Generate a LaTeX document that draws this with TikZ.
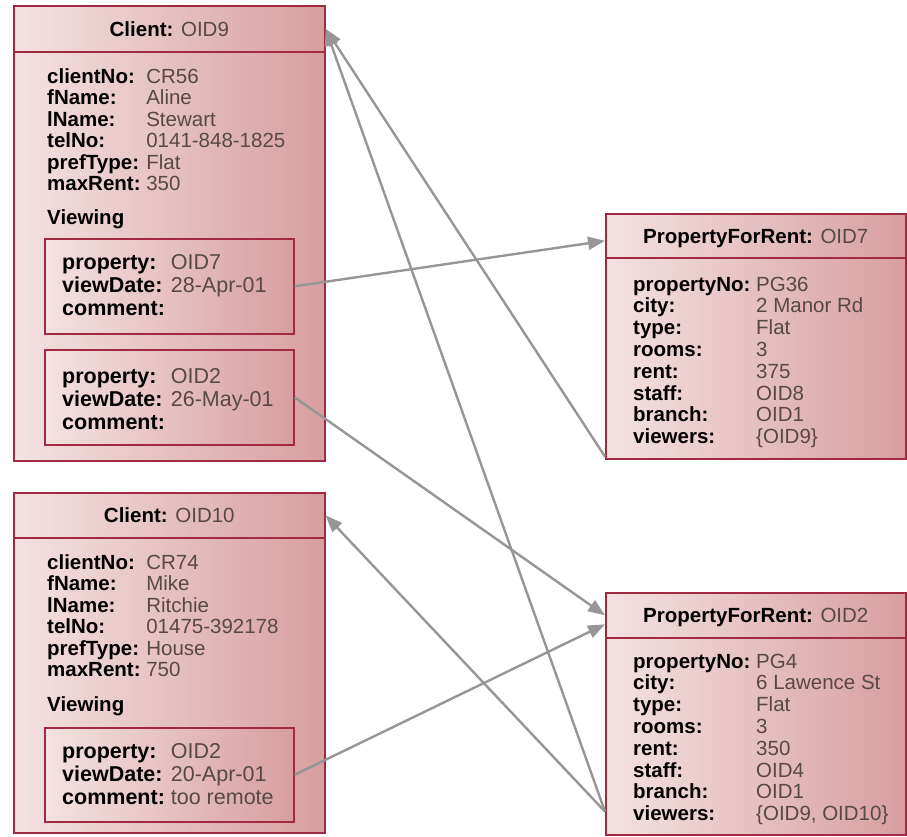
\documentclass[tikz,border=0pt]{standalone}
\usepackage{fontspec}
\setmainfont{Liberation Sans}
\usetikzlibrary{arrows.meta}

\definecolor{boxL}{RGB}{244,226,226}
\definecolor{boxR}{RGB}{216,158,160}
\definecolor{boxedge}{RGB}{160,42,66}
\definecolor{valgray}{RGB}{88,72,72}
\definecolor{linkgray}{RGB}{150,150,150}

\newcommand{\lbl}[1]{\textbf{#1}}
\newcommand{\val}[1]{\textcolor{valgray}{#1}}

\tikzset{
  objbox/.style={rectangle, draw=boxedge, line width=1.6pt,
    left color=boxL, right color=boxR, inner sep=0pt, anchor=north west},
  hdrbox/.style={objbox, minimum height=46pt,
    font=\fontsize{20.5}{22}\selectfont, text height=15pt, text depth=0pt},
  attrs/.style={inner sep=0pt, anchor=base west,
    font=\fontsize{20.5}{21.5}\selectfont},
  propattrs/.style={attrs, font=\fontsize{20.5}{21.8}\selectfont},
  viewattrs/.style={inner sep=0pt, anchor=base west,
    font=\fontsize{21.5}{23.3}\selectfont},
  link/.style={draw=linkgray, line width=2.4pt,
    -{Triangle[length=17pt,width=13pt]}}
}

\begin{document}
\begin{tikzpicture}[x=1pt,y=-1pt]
\useasboundingbox (0,0) rectangle (907,836);

% ---------- Client OID9 ----------
\node[objbox, minimum width=311pt, minimum height=455pt] (c9) at (13,5) {};
\node[hdrbox, minimum width=311pt] (c9h) at (13,5) {\lbl{Client:} \val{OID9}};
\node[attrs] (c9a) at (47,83) {\begin{tabular}[t]{@{}l@{\ }l@{}}
  \lbl{clientNo:} & \val{CR56}\\
  \lbl{fName:}    & \val{Aline}\\
  \lbl{lName:}    & \val{Stewart}\\
  \lbl{telNo:}    & \val{0141-848-1825}\\
  \lbl{prefType:} & \val{Flat}\\
  \lbl{maxRent:}  & \val{350}
\end{tabular}};
\node[attrs] (c9v) at (47,224) {\lbl{Viewing}};

\node[objbox, minimum width=249pt, minimum height=95pt] (v1) at (44,238) {};
\node[viewattrs] (v1a) at (62,269) {\begin{tabular}[t]{@{}l@{\ }l@{}}
  \lbl{property:} & \val{OID7}\\
  \lbl{viewDate:} & \val{28-Apr-01}\\
  \lbl{comment:}  &
\end{tabular}};

\node[objbox, minimum width=249pt, minimum height=95pt] (v2) at (44,349) {};
\node[viewattrs] (v2a) at (62,383) {\begin{tabular}[t]{@{}l@{\ }l@{}}
  \lbl{property:} & \val{OID2}\\
  \lbl{viewDate:} & \val{26-May-01}\\
  \lbl{comment:}  &
\end{tabular}};

% ---------- Client OID10 ----------
\node[objbox, minimum width=311pt, minimum height=340pt] (c10) at (13,492) {};
\node[hdrbox, minimum width=311pt, minimum height=45pt] (c10h) at (13,492) {\lbl{Client:} \val{OID10}};
\node[attrs] (c10a) at (47,569) {\begin{tabular}[t]{@{}l@{\ }l@{}}
  \lbl{clientNo:} & \val{CR74}\\
  \lbl{fName:}    & \val{Mike}\\
  \lbl{lName:}    & \val{Ritchie}\\
  \lbl{telNo:}    & \val{01475-392178}\\
  \lbl{prefType:} & \val{House}\\
  \lbl{maxRent:}  & \val{750}
\end{tabular}};
\node[attrs] (c10v) at (47,711) {\lbl{Viewing}};

\node[objbox, minimum width=249pt, minimum height=94pt] (v3) at (44,727) {};
\node[viewattrs] (v3a) at (62,758) {\begin{tabular}[t]{@{}l@{\ }l@{}}
  \lbl{property:} & \val{OID2}\\
  \lbl{viewDate:} & \val{20-Apr-01}\\
  \lbl{comment:}  & \val{too remote}
\end{tabular}};

% ---------- PropertyForRent OID7 ----------
\node[objbox, minimum width=300pt, minimum height=245pt] (p7) at (605,213) {};
\node[hdrbox, minimum width=300pt, minimum height=44pt] (p7h) at (605,213) {\lbl{PropertyForRent:} \val{OID7}};
\node[propattrs] (p7a) at (633,291) {\begin{tabular}[t]{@{}l@{\ }l@{}}
  \lbl{propertyNo:} & \val{PG36}\\
  \lbl{city:}       & \val{2 Manor Rd}\\
  \lbl{type:}       & \val{Flat}\\
  \lbl{rooms:}      & \val{3}\\
  \lbl{rent:}       & \val{375}\\
  \lbl{staff:}      & \val{OID8}\\
  \lbl{branch:}     & \val{OID1}\\
  \lbl{viewers:}    & \val{\{OID9\}}
\end{tabular}};

% ---------- PropertyForRent OID2 ----------
\node[objbox, minimum width=300pt, minimum height=242pt] (p2) at (605,592) {};
\node[hdrbox, minimum width=300pt, minimum height=45pt] (p2h) at (605,592) {\lbl{PropertyForRent:} \val{OID2}};
\node[propattrs] (p2a) at (633,668) {\begin{tabular}[t]{@{}l@{\ }l@{}}
  \lbl{propertyNo:} & \val{PG4}\\
  \lbl{city:}       & \val{6 Lawence St}\\
  \lbl{type:}       & \val{Flat}\\
  \lbl{rooms:}      & \val{3}\\
  \lbl{rent:}       & \val{350}\\
  \lbl{staff:}      & \val{OID4}\\
  \lbl{branch:}     & \val{OID1}\\
  \lbl{viewers:}    & \val{\{OID9, OID10\}}
\end{tabular}};

% ---------- object references ----------
\draw[link] (v1.east) -- ([yshift=-5pt]p7h.west);
\draw[link] (v2.east) -- (p2h.west);
\draw[link] (v3.east) -- ([yshift=-9pt]p2h.west);
\draw[link] ([yshift=3pt]p7.south west) -- (c9h.east);
\draw[link] ([yshift=24pt]p2.south west) -- (c9h.east);
\draw[link] ([yshift=24pt]p2.south west) -- (c10h.east);
\end{tikzpicture}
\end{document}
